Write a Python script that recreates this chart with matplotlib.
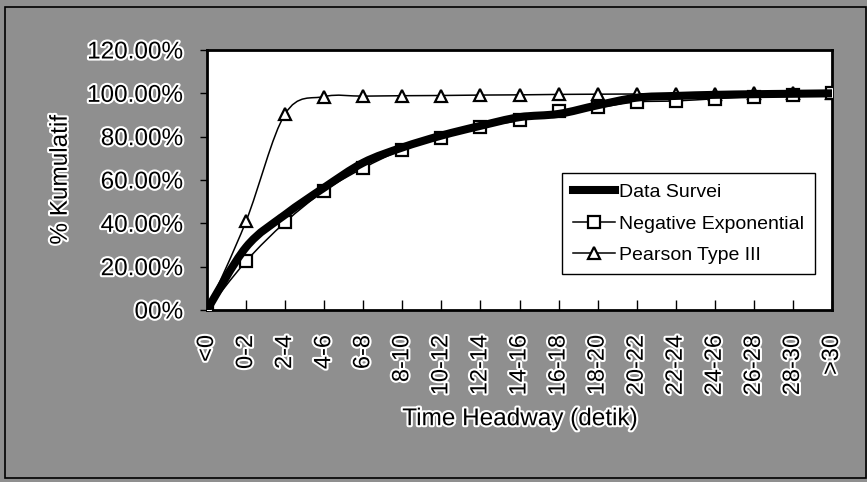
import matplotlib.pyplot as plt
import matplotlib.patheffects as pe
from matplotlib.path import Path
from matplotlib.patches import PathPatch, Rectangle
from matplotlib.lines import Line2D
import numpy as np

plt.rcParams['font.family'] = ['Liberation Sans', 'DejaVu Sans']

# Data (kumulatif, %)
kategori = ['<0', '0-2', '2-4', '4-6', '6-8', '8-10', '10-12', '12-14', '14-16',
            '16-18', '18-20', '20-22', '22-24', '24-26', '26-28', '28-30', '>30']
data_survei = [0.0, 29.0, 44.0, 56.5, 68.0, 75.0, 80.5, 85.0, 89.0,
               90.5, 94.5, 98.0, 98.8, 99.3, 99.6, 99.8, 100.0]
neg_exp = [0.0, 22.5, 40.5, 55.0, 65.5, 74.0, 79.5, 84.5, 87.5,
           92.0, 93.5, 96.0, 96.5, 97.5, 98.5, 99.2, 100.0]
pearson3 = [0.0, 41.0, 90.5, 98.5, 98.7, 98.9, 99.0, 99.2, 99.3,
            99.5, 99.6, 99.7, 99.8, 99.9, 100.0, 100.0, 100.0]

y_ticks = [0, 20, 40, 60, 80, 100, 120]
y_ticklabels = ['00%', '20.00%', '40.00%', '60.00%', '80.00%', '100.00%', '120.00%']

bg = '#8f8f8f'
halo = [pe.withStroke(linewidth=3, foreground='white')]


def smooth_path(x, y):
    # kurva halus ala Excel (Catmull-Rom -> Bezier)
    x = np.asarray(x, float)
    y = np.asarray(y, float)
    n = len(x)
    verts = [(x[0], y[0])]
    codes = [Path.MOVETO]
    for i in range(n - 1):
        i0 = max(i - 1, 0)
        i3 = min(i + 2, n - 1)
        c1 = (x[i] + (x[i + 1] - x[i0]) / 6, y[i] + (y[i + 1] - y[i0]) / 6)
        c2 = (x[i + 1] - (x[i3] - x[i]) / 6, y[i + 1] - (y[i3] - y[i]) / 6)
        verts += [c1, c2, (x[i + 1], y[i + 1])]
        codes += [Path.CURVE4] * 3
    return Path(verts, codes)


fig = plt.figure(figsize=(8.67, 4.82), dpi=100, facecolor=bg)
fig.patches.append(Rectangle((5 / 867, 4 / 482), 861 / 867, 471 / 482, transform=fig.transFigure,
                             fill=False, edgecolor='black', linewidth=1.2))

ax = fig.add_axes([207 / 867, 1 - 310 / 482, 625 / 867, 260 / 482])
ax.set_facecolor('white')
x = np.arange(len(kategori))

# Pearson Type III
ax.add_patch(PathPatch(smooth_path(x, pearson3), fill=False, edgecolor='black', lw=1.1, zorder=2))
ax.plot(x, pearson3, ls='none', marker='^', ms=9, mfc='white', mec='black', mew=1.6, zorder=3)
# Negative Exponential
ax.add_patch(PathPatch(smooth_path(x, neg_exp), fill=False, edgecolor='black', lw=1.1, zorder=2))
ax.plot(x, neg_exp, ls='none', marker='s', ms=8, mfc='white', mec='black', mew=1.6, zorder=3)
# Data Survei
ax.add_patch(PathPatch(smooth_path(x, data_survei), fill=False, edgecolor='black', lw=5.8,
                       capstyle='round', zorder=4))

ax.set_xlim(0, len(kategori) - 1)
ax.set_ylim(0, 120)
ax.set_xticks(x)
ax.set_xticklabels(kategori, rotation=90, fontsize=17, va='top', path_effects=halo)
ax.set_yticks(y_ticks)
ax.set_yticklabels(y_ticklabels, fontsize=17.5, path_effects=halo)
ax.tick_params(axis='x', direction='in', length=7, width=1, pad=18)
ax.tick_params(axis='y', direction='out', length=5, width=1, pad=12)
for s in ax.spines.values():
    s.set_linewidth(2)

ax.set_xlabel('Time Headway (detik)', fontsize=17.5, path_effects=halo)
ax.xaxis.set_label_coords(0.5, -0.42)
ax.xaxis.label.set_va('center')
ax.set_ylabel('% Kumulatif', fontsize=17.5, path_effects=halo)
ax.yaxis.set_label_coords(-0.234, 0.5)
ax.yaxis.label.set_va('center')

handles = [
    Line2D([], [], color='black', lw=5.8),
    Line2D([], [], color='black', lw=1.1, marker='s', ms=8, mfc='white', mec='black', mew=1.6),
    Line2D([], [], color='black', lw=1.1, marker='^', ms=9, mfc='white', mec='black', mew=1.6),
]
leg = ax.legend(handles, ['Data Survei', 'Negative Exponential', 'Pearson Type III'],
                loc='upper left', bbox_to_anchor=(0.568, 0.527), fontsize=14,
                frameon=True, fancybox=False, framealpha=1, edgecolor='black',
                handlelength=2.2, handletextpad=0.2, labelspacing=0.7,
                borderpad=0.55, borderaxespad=0)
leg.get_frame().set_linewidth(1)

plt.savefig('out.png', dpi=100, facecolor=bg)
